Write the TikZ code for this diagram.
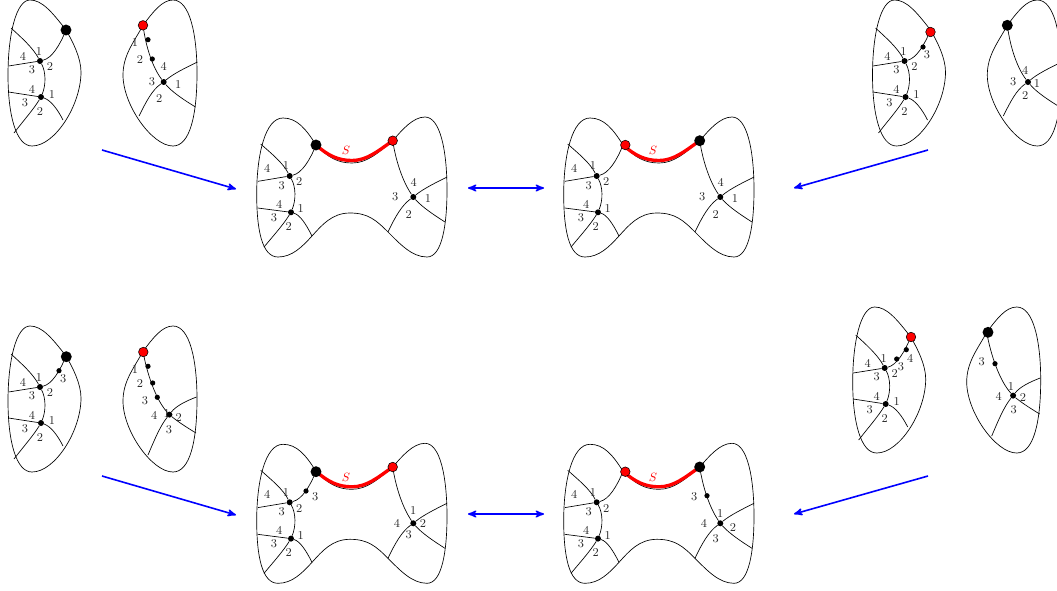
\documentclass[tikz,border=0pt]{standalone}
\usepackage{amsmath}
\usepackage{tikz}
\usetikzlibrary{arrows}
\tikzset{
  edgeline/.style={color=black,line width=0.5pt},
  lbl/.style={font=\small,inner sep=0pt,text=black!85},
  vtx/.style={circle,fill=black,inner sep=0pt,minimum size=4.5pt},
  smallvtx/.style={circle,fill=black,inner sep=0pt,minimum size=3.9pt},
  blackpt/.style={circle,fill=black,inner sep=0pt,minimum size=8.2pt},
  redpt/.style={circle,fill=red,draw=black,line width=0.4pt,inner sep=0pt,minimum size=7.2pt},
  maparrow/.style={color=blue,line width=1.2pt,->},
  pics/leftblob/.style={code={
    \coordinate (-p) at (66,30);
    \node[vtx] (-a) at (40,61) {};
    \node[vtx] (-b) at (41,97) {};
    \draw [edgeline] (-p) .. controls (52,12) and (42,0) .. (30,0) .. controls (16,0) and (8,35) .. (8,75) .. controls (8,115) and (16,146) .. (32,146) .. controls (55,146) and (81,105) .. (81,72) .. controls (81,58) and (73,42) .. (-p);
    \draw [edgeline] (-a) .. controls (52,58) and (60,45) .. (-p);
    \draw [edgeline] (-a) -- (8.5,66);
    \draw [edgeline] (-a) .. controls (33,48) and (22,38) .. (11,28);
    \draw [edgeline] (-a) .. controls (46,72) and (46,85) .. (-b);
    \draw [edgeline] (-b) -- (8.5,92);
    \draw [edgeline] (-b) .. controls (33,110) and (24,120) .. (14,133);
    \draw [edgeline] (-b) .. controls (50,100) and (57,108) .. (63,120);
    \foreach \k/\t/\x/\y in {a/1/39/51,b/2/50/66,c/3/32/70,d/4/23/56,e/4/32/89,f/1/52/94,g/2/40/111,h/3/25/103}
      \node[lbl] (-\k) at (\x,\y) {\t};
  }},
  pics/rightblob/.style={code={
    \coordinate (-p) at (143,25.3);
    \node[vtx] (-c) at (163.7,82) {};
    \draw [edgeline] (-p) .. controls (153,12) and (162,0) .. (173,0) .. controls (190,0) and (197,35) .. (197,73) .. controls (197,115) and (190,146) .. (173,146) .. controls (152,146) and (123,105) .. (123,75) .. controls (123,55) and (134,42) .. (-p);
    \draw [edgeline] (-p) .. controls (146,48) and (153,68) .. (-c);
    \draw [edgeline] (-c) .. controls (173,74) and (185,68) .. (197.5,62);
    \draw [edgeline] (-c) .. controls (172,92) and (184,100) .. (195.5,107);
    \draw [edgeline] (-c) .. controls (152,90) and (146,102) .. (139,116);
  }},
  pics/rightbent/.style={code={
    \coordinate (-p) at (143,25.3);
    \node[vtx] (-c) at (169.4,88.6) {};
    \draw [edgeline] (-p) .. controls (153,12) and (162,0) .. (173,0) .. controls (190,0) and (197,35) .. (197,73) .. controls (197,115) and (190,146) .. (173,146) .. controls (152,146) and (123,105) .. (123,75) .. controls (123,55) and (134,42) .. (-p);
    \draw [edgeline] (-p) .. controls (147,48) and (156,74) .. (-c);
    \draw [edgeline] (-c) .. controls (176,80) and (186,75) .. (196.5,71);
    \draw [edgeline] (-c) .. controls (177,95) and (186,101) .. (196,107);
    \draw [edgeline] (-c) .. controls (160,100) and (154,115) .. (148,129);
  }},
  pics/mainfig/.style={code={
    \coordinate (-p) at (66,35);
    \coordinate (-q) at (142.7,30.7);
    \node[vtx] (-a) at (39.7,66) {};
    \node[vtx] (-b) at (41,102.3) {};
    \node[vtx] (-c) at (163.3,87) {};
    \draw [edgeline] (-p) .. controls (56,19) and (47,8) .. (33,8) .. controls (15,8) and (7,45) .. (6.7,82) .. controls (6.5,120) and (12,147) .. (28,147) .. controls (42,147) and (52,137) .. (62,126) .. controls (72,115) and (82,103) .. (100,103) .. controls (118,103) and (126,110) .. (138,122) .. controls (150,134) and (162,147) .. (177,147) .. controls (192,147) and (197,115) .. (197,80) .. controls (197,40) and (190,7) .. (175,7) .. controls (163,7) and (152,20) .. (-q);
    \draw [edgeline] (-a) .. controls (52,63) and (60,50) .. (-p);
    \draw [edgeline] (-a) -- (8,71.3);
    \draw [edgeline] (-a) .. controls (33,53) and (22,44) .. (10.7,34);
    \draw [edgeline] (-a) .. controls (46,77) and (46,90) .. (-b);
    \draw [edgeline] (-b) -- (7.7,98);
    \draw [edgeline] (-b) .. controls (33,115) and (24,125) .. (14,137);
    \draw [edgeline] (-b) .. controls (50,105) and (56,114) .. (62,126);
    \draw [edgeline] (-q) .. controls (146,52) and (153,72) .. (-c);
    \draw [edgeline] (-c) .. controls (173,79) and (185,73) .. (197,67);
    \draw [edgeline] (-c) .. controls (172,97) and (184,105) .. (195,112);
    \draw [edgeline] (-c) .. controls (152,95) and (145,107) .. (138,122);
    \draw [edgeline] (-p) .. controls (78,47.5) and (88,53) .. (102,53) .. controls (117,53) and (128,43) .. (-q);
    \draw [color=red,line width=2.5pt] (-p) .. controls (78,45.5) and (88,50.5) .. (102,50.5) .. controls (117,50.5) and (128,41) .. (-q);
    \node[lbl,text=red] (-s) at (96,40.7) {$S$};
    \foreach \k/\t/\x/\y in {n/1/36/55.7,o/2/49.3/71.7,r/3/31.7/75.3,t/4/17.3/58.3,u/4/29.3/94,v/1/50.7/98.7,w/2/38.7/116,z/3/24/107.7}
      \node[lbl] (-\k) at (\x,\y) {\t};
  }},
}
\begin{document}
\begin{tikzpicture}[>=stealth',line join=bevel,x=0.75pt,y=-0.75pt]
        \clip (0,0) rectangle (1057,590);
        %
        \pic (lone) at (0,0) {leftblob};
        \pic (ltwo) at (864.5,0) {leftblob};
        \pic (lthree) at (0,326) {leftblob};
        \pic (lfour) at (844.7,307) {leftblob};
        \pic (rone) at (0,0) {rightblob};
        \pic (rtwo) at (864.3,0) {rightblob};
        \pic (rthree) at (0,326) {rightbent};
        \pic (rfour) at (843.7,307) {rightbent};
        \pic (mone) at (250,110) {mainfig};
        \pic (mtwo) at (557,110) {mainfig};
        \pic (mthree) at (250,436.3) {mainfig};
        \pic (mfour) at (557,436.3) {mainfig};
        %
        \node[blackpt] (lonedot) at (66,30) {};
        \node[redpt] (ronedot) at (143,25.3) {};
        \node[redpt] (ltwodot) at (930.5,32) {};
        \node[blackpt] (rtwodot) at (1007.3,25.3) {};
        \node[blackpt] (lthreedot) at (66.3,356.7) {};
        \node[redpt] (rthreedot) at (143.3,352) {};
        \node[redpt] (lfourdot) at (911,337) {};
        \node[blackpt] (rfourdot) at (988,332.3) {};
        \node[blackpt] (monep) at (316,145) {};
        \node[redpt] (moneq) at (392.7,140.7) {};
        \node[redpt] (mtwop) at (625.3,145) {};
        \node[blackpt] (mtwoq) at (699.7,140.7) {};
        \node[blackpt] (mthreep) at (316,471.7) {};
        \node[redpt] (mthreeq) at (392.7,467) {};
        \node[redpt] (mfourp) at (625.3,471.7) {};
        \node[blackpt] (mfourq) at (699.7,467) {};
        %
        \node[smallvtx] (rone1) at (148,39.7) {};
        \node[smallvtx] (rone2) at (152.3,59) {};
        \node[smallvtx] (ltwo1) at (923,47) {};
        \node[smallvtx] (lthree1) at (59,370.7) {};
        \node[smallvtx] (rthree1) at (148,366.3) {};
        \node[smallvtx] (rthree2) at (152.7,383) {};
        \node[smallvtx] (rthree3) at (157.3,397.3) {};
        \node[smallvtx] (lfour1) at (896.7,359) {};
        \node[smallvtx] (lfour2) at (906.3,349.7) {};
        \node[smallvtx] (rfour1) at (995,363.7) {};
        \node[smallvtx] (mthree1) at (306,491) {};
        \node[smallvtx] (mfour1) at (707,495.7) {};
        %
        \foreach \k/\t/\x/\y in {a/1/135/42.7,b/2/140/59.3,c/4/163.7/66.7,d/3/152/81.7,e/1/178.3/84,f/2/159.3/98.7}
          \node[lbl] (ronelbl\k) at (\x,\y) {\t};
        \foreach \k/\t/\x/\y in {a/4/1025.3/70,b/3/1013.3/81.7,c/1/1037/83.3,d/2/1025.3/95.7}
          \node[lbl] (rtwolbl\k) at (\x,\y) {\t};
        \node[lbl] (ltwolbl) at (927,55) {3};
        \node[lbl] (lthreelbl) at (63.3,379) {3};
        \foreach \k/\t/\x/\y in {a/1/135/369.3,b/2/140/383.3,c/3/145/400.7,d/1/166.7/413.5,e/4/154.3/415,f/2/178.7/417.3,g/3/169/430}
          \node[lbl] (rthreelbl\k) at (\x,\y) {\t};
        \foreach \k/\t/\x/\y in {a/3/901/366.3,b/4/910.3/358}
          \node[lbl] (lfourlbl\k) at (\x,\y) {\t};
        \foreach \k/\t/\x/\y in {a/3/981.7/361.7,b/1/1011/386,c/4/998.7/396,d/2/1023/397.3,e/3/1013.7/409.3}
          \node[lbl] (rfourlbl\k) at (\x,\y) {\t};
        %
        \foreach \f/\ox/\oy in {mone/250/110,mtwo/557/110}
          \foreach \k/\t/\x/\y in {a/4/163.7/72.7,b/3/145.3/87,c/1/178/88.3,d/2/158.7/104}
            \node[lbl] (\f lbl\k) at (\ox+\x,\oy+\y) {\t};
        \foreach \k/\t/\x/\y in {a/3/315.3/496.7,b/1/413.3/510.7,c/4/397/523.3,d/2/423/523.3,e/3/408.7/534.3}
          \node[lbl] (mthreelbl\k) at (\x,\y) {\t};
        \foreach \k/\t/\x/\y in {a/3/694.3/496.7,b/1/720.3/513.7,c/4/704/523.3,d/2/733/527.7,e/3/715.7/538.3}
          \node[lbl] (mfourlbl\k) at (\x,\y) {\t};
        %
        \coordinate (aonea) at (102,150);
        \coordinate (aoneb) at (236,189);
        \coordinate (atwoa) at (468,188);
        \coordinate (atwob) at (544,188);
        \coordinate (athreea) at (928,150);
        \coordinate (athreeb) at (794,188);
        \coordinate (afoura) at (102,476);
        \coordinate (afourb) at (236,515);
        \coordinate (afivea) at (468,514);
        \coordinate (afiveb) at (544,514);
        \coordinate (asixa) at (928,476);
        \coordinate (asixb) at (794,514);
        %
        \draw [maparrow] (aonea) to (aoneb);
        \draw [maparrow,<->] (atwoa) to (atwob);
        \draw [maparrow] (athreea) to (athreeb);
        \draw [maparrow] (afoura) to (afourb);
        \draw [maparrow,<->] (afivea) to (afiveb);
        \draw [maparrow] (asixa) to (asixb);
        %
    \end{tikzpicture}
\end{document}
